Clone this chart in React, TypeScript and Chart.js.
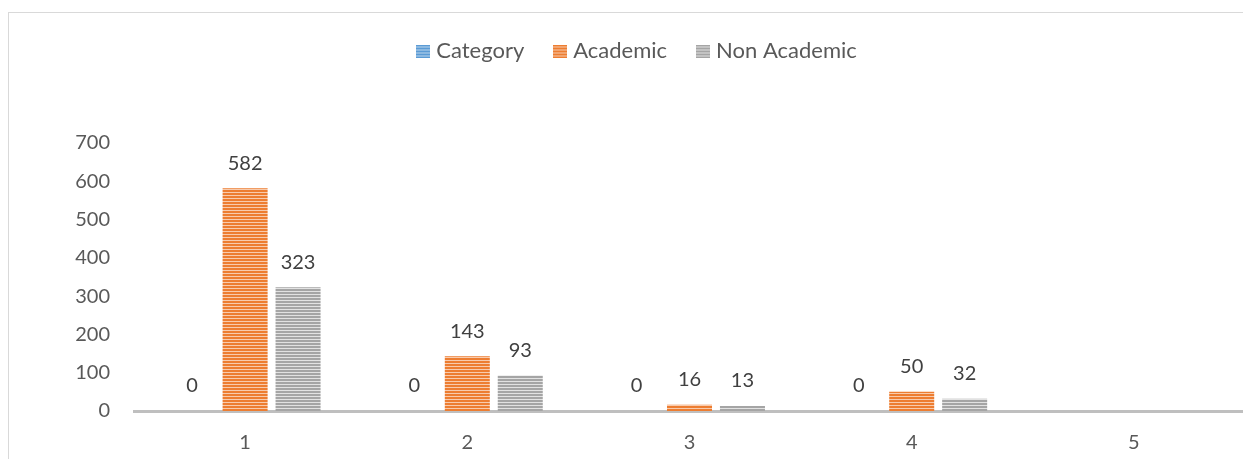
import React, { useEffect, useRef } from 'react';
import { Chart, registerables } from 'chart.js';

Chart.register(...registerables);

const categories = ['1', '2', '3', '4', '5'];
const categorySeries: (number | null)[] = [0, 0, 0, 0, null];
const academicSeries: (number | null)[] = [582, 143, 16, 50, null];
const nonAcademicSeries: (number | null)[] = [323, 93, 13, 32, null];
const seriesNames = ['Category', 'Academic', 'Non Academic'];
const yMax = 700;
const yStep = 100;

const FONT = 'Lato, "Open Sans", sans-serif';

function stripeCanvas(w: number, h: number, dark: string, light: string) {
  const c = document.createElement('canvas');
  c.width = w;
  c.height = h;
  const g = c.getContext('2d')!;
  for (let y = 0; y < h; y++) {
    g.fillStyle = y % 3 === 2 ? light : dark;
    g.fillRect(0, y, w, 1);
  }
  return c;
}

function stripe(ctx: CanvasRenderingContext2D, dark: string, light: string) {
  return ctx.createPattern(stripeCanvas(4, 3, dark, light), 'repeat') as CanvasPattern;
}

const valueLabels = {
  id: 'valueLabels',
  afterDatasetsDraw(chart: any) {
    const ctx = chart.ctx;
    ctx.save();
    ctx.font = `20px ${FONT}`;
    ctx.fillStyle = '#404040';
    ctx.textAlign = 'center';
    ctx.textBaseline = 'middle';
    chart.data.datasets.forEach((ds: any, di: number) => {
      const meta = chart.getDatasetMeta(di);
      meta.data.forEach((el: any, i: number) => {
        const v = ds.data[i];
        if (v === null || v === undefined) return;
        ctx.fillText(String(v), el.x, el.y - 25);
      });
    });
    ctx.restore();
  },
};

const legendHeight = {
  id: 'legendHeight',
  beforeLayout(chart: any) {
    const lg = chart.legend;
    if (lg && !lg._patched) {
      const f = lg.fit;
      lg.fit = function () {
        f.call(this);
        this.height = 137;
      };
      lg._patched = true;
    }
  },
};

export default function App() {
  const ref = useRef<HTMLCanvasElement>(null);
  useEffect(() => {
    const canvas = ref.current!;
    const ctx = canvas.getContext('2d')!;
    const colors = [
      ['#5B9BD5', '#BDD7EE'],
      ['#ED7D31', '#F8CBAD'],
      ['#A5A5A5', '#E2E2E2'],
    ];
    const fills = colors.map(([d, l]) => stripe(ctx, d, l));
    const icons = colors.map(([d, l]) => stripeCanvas(14, 13, d, l));
    const seriesData = [categorySeries, academicSeries, nonAcademicSeries];
    const chart = new Chart(canvas, {
      type: 'bar',
      data: {
        labels: categories,
        datasets: seriesNames.map((name, i) => ({
          label: name,
          data: seriesData[i],
          backgroundColor: fills[i],
          borderWidth: 0,
          pointStyle: icons[i],
        })),
      },
      options: {
        responsive: false,
        animation: false,
        devicePixelRatio: 1,
        layout: { padding: { left: 24, right: 14, top: -7, bottom: 0 } },
        datasets: {
          bar: { categoryPercentage: 0.715, barPercentage: 0.85 },
        },
        plugins: {
          tooltip: { enabled: false },
          legend: {
            position: 'top',
            labels: {
              usePointStyle: true,
              pointStyleWidth: 4,
              boxHeight: 13,
              padding: 34,
              color: '#595959',
              font: { family: FONT, size: 22 },
            },
          },
        },
        scales: {
          x: {
            grid: { display: false, drawTicks: false },
            border: { display: true, color: '#BFBFBF', width: 3 },
            ticks: { color: '#595959', font: { family: FONT, size: 20 }, padding: 20 },
            afterFit(scale: any) {
              scale.height = 60;
            },
          },
          y: {
            min: 0,
            max: yMax,
            grid: { display: false, drawTicks: false },
            border: { display: false },
            ticks: { stepSize: yStep, color: '#595959', font: { family: FONT, size: 20 }, padding: 24 },
            afterFit(scale: any) {
              scale.width = 101;
            },
          },
        },
      } as any,
      plugins: [valueLabels, legendHeight],
    });
    return () => chart.destroy();
  }, []);

  return (
    <div style={{ position: 'fixed', inset: 0, overflow: 'hidden', background: '#fff' }}>
      <div
        style={{
          position: 'absolute',
          left: 8,
          top: 12,
          width: 1300,
          height: 480,
          borderLeft: '1px solid #D9D9D9',
          borderTop: '1px solid #D9D9D9',
        }}
      >
        <canvas ref={ref} width={1250} height={458} style={{ display: 'block', width: 1250, height: 458 }} />
      </div>
    </div>
  );
}
